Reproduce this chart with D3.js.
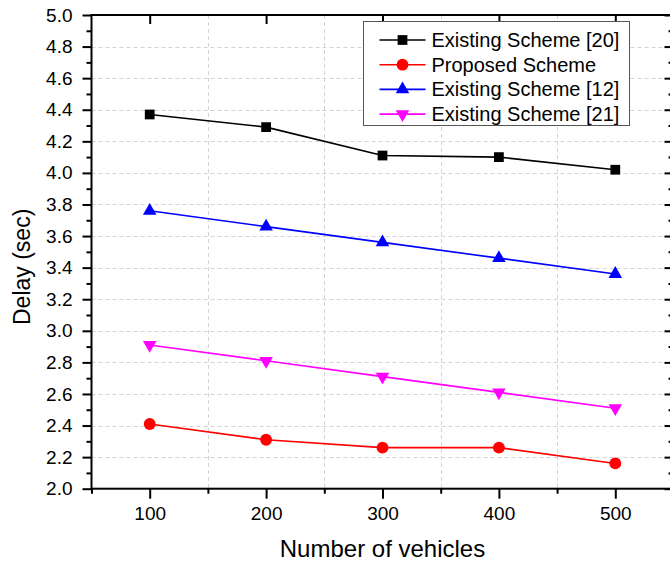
<!DOCTYPE html>
<html>
<head>
<meta charset="utf-8">
<script src="https://cdn.jsdelivr.net/npm/d3@7"></script>
<style>
  body { margin: 0; background: #fff; }
  text { font-family: "Liberation Sans", Arial, sans-serif; fill: #000; }
</style>
</head>
<body>
<div id="chart"></div>
<script>
// Data
const vehicles = [100, 200, 300, 400, 500];
const scheme20 = [4.37, 4.29, 4.11, 4.10, 4.02];
const proposed = [2.41, 2.31, 2.26, 2.26, 2.16];
const scheme12 = [3.76, 3.66, 3.56, 3.46, 3.36];
const scheme21 = [2.91, 2.81, 2.71, 2.61, 2.51];
const seriesNames = ["Existing Scheme [20]", "Proposed Scheme", "Existing Scheme [12]", "Existing Scheme [21]"];
const xTicks = [100, 200, 300, 400, 500];
const yTicks = [2.0, 2.2, 2.4, 2.6, 2.8, 3.0, 3.2, 3.4, 3.6, 3.8, 4.0, 4.2, 4.4, 4.6, 4.8, 5.0];

const width = 670, height = 561;
const plotLeft = 91.5, plotRight = 673.5, plotTop = 15, plotBottom = 488.7;

const series = [
  { name: seriesNames[0], values: scheme20, color: "#000000", symbol: d3.symbolSquare, size: 95, rot: 0 },
  { name: seriesNames[1], values: proposed, color: "#ff0000", symbol: d3.symbolCircle, size: 110, rot: 0 },
  { name: seriesNames[2], values: scheme12, color: "#0000ff", symbol: d3.symbolTriangle, size: 80, rot: 0 },
  { name: seriesNames[3], values: scheme21, color: "#ff00ff", symbol: d3.symbolTriangle, size: 80, rot: 180 }
];

const x = d3.scaleLinear().domain([50, 550]).range([plotLeft, plotRight]);
const y = d3.scaleLinear().domain([2, 5]).range([plotBottom, plotTop]);

const svg = d3.select("#chart").append("svg")
  .attr("width", width)
  .attr("height", height);

// grid
const grid = svg.append("g").attr("stroke", "#d4d4d4").attr("stroke-width", 1).attr("stroke-dasharray", "4,3");
grid.selectAll("line.h")
  .data(yTicks.filter(v => v > 2 && v < 5))
  .join("line")
  .attr("x1", plotLeft).attr("x2", plotRight)
  .attr("y1", d => Math.round(y(d)) + 0.5).attr("y2", d => Math.round(y(d)) + 0.5);
grid.selectAll("line.v")
  .data([150, 250, 350, 450])
  .join("line")
  .attr("y1", plotTop).attr("y2", plotBottom)
  .attr("x1", d => Math.round(x(d)) + 0.5).attr("x2", d => Math.round(x(d)) + 0.5);

// axes
const yMinor = d3.range(2.1, 5, 0.2);
const xMinor = [50, 150, 250, 350, 450, 550];

const axisLeft = svg.append("g").attr("transform", `translate(${plotLeft},0)`)
  .call(d3.axisLeft(y).tickValues(yTicks).tickFormat(d3.format(".1f")).tickSize(9).tickPadding(10));
axisLeft.append("g").call(d3.axisLeft(y).tickValues(yMinor).tickFormat("").tickSize(5));

const axisRight = svg.append("g").attr("transform", `translate(${plotRight},0)`)
  .call(d3.axisLeft(y).tickValues(yTicks).tickFormat("").tickSize(9));
axisRight.append("g").call(d3.axisLeft(y).tickValues(yMinor).tickFormat("").tickSize(5));

const axisBottom = svg.append("g").attr("transform", `translate(0,${plotBottom})`)
  .call(d3.axisBottom(x).tickValues(xTicks).tickFormat(d3.format("d")).tickSize(10).tickPadding(8));
axisBottom.append("g").call(d3.axisBottom(x).tickValues(xMinor).tickFormat("").tickSize(5));

const axisTop = svg.append("g").attr("transform", `translate(0,${plotTop})`)
  .call(d3.axisBottom(x).tickValues(xTicks).tickFormat("").tickSize(9));

[axisLeft, axisRight, axisBottom, axisTop].forEach(g => {
  g.selectAll(".domain").remove();
  g.selectAll("line").attr("stroke", "#000").attr("stroke-width", 2);
  g.selectAll("text").style("font-size", "19px").attr("fill", "#000");
});

svg.append("rect")
  .attr("x", plotLeft).attr("y", plotTop)
  .attr("width", plotRight - plotLeft).attr("height", plotBottom - plotTop)
  .attr("fill", "none").attr("stroke", "#000").attr("stroke-width", 2);

// lines and markers
const line = d3.line().x((d, i) => x(vehicles[i])).y(d => y(d));

series.forEach(s => {
  svg.append("path")
    .datum(s.values)
    .attr("d", line)
    .attr("fill", "none")
    .attr("stroke", s.color)
    .attr("stroke-width", 1.6);
  svg.selectAll(null)
    .data(s.values)
    .join("path")
    .attr("d", d3.symbol().type(s.symbol).size(s.size))
    .attr("transform", (d, i) => `translate(${x(vehicles[i])},${y(d)}) rotate(${s.rot})`)
    .attr("fill", s.color);
});

// legend
const legend = svg.append("g").attr("transform", "translate(363.5,21.5)");
legend.append("rect")
  .attr("width", 266).attr("height", 104)
  .attr("fill", "#fff").attr("stroke", "#555").attr("stroke-width", 1);
series.forEach((s, i) => {
  const row = legend.append("g").attr("transform", `translate(0,${18.5 + i * 24.7})`);
  row.append("line").attr("x1", 16).attr("x2", 62).attr("y1", 0).attr("y2", 0)
    .attr("stroke", s.color).attr("stroke-width", 1.6);
  row.append("path")
    .attr("d", d3.symbol().type(s.symbol).size(s.size))
    .attr("transform", `translate(39,0) rotate(${s.rot})`)
    .attr("fill", s.color);
  row.append("text").attr("x", 68).attr("y", 7)
    .style("font-size", "20px").text(s.name);
});

// axis titles
svg.append("text")
  .attr("x", x(300)).attr("y", 557)
  .attr("text-anchor", "middle")
  .style("font-size", "24px")
  .text("Number of vehicles");

svg.append("text")
  .attr("transform", `translate(30,${(plotTop + plotBottom) / 2 + 15}) rotate(-90)`)
  .attr("text-anchor", "middle")
  .style("font-size", "23px")
  .text("Delay (sec)");
</script>
</body>
</html>
